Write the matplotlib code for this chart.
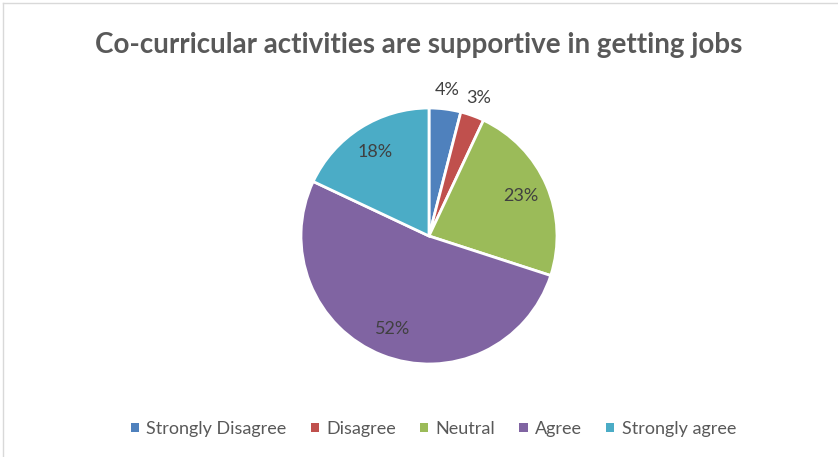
import numpy as np
import matplotlib.pyplot as plt
from matplotlib.patches import Patch
from matplotlib.lines import Line2D

# data
labels = ['Strongly Disagree', 'Disagree', 'Neutral', 'Agree', 'Strongly agree']
values = [4, 3, 23, 52, 18]
colors = ['#4f81bd', '#c0504d', '#9bbb59', '#8064a2', '#4bacc6']

plt.rcParams['font.family'] = ['Lato', 'DejaVu Sans']

W, H = 838, 457
fig = plt.figure(figsize=(W / 100, H / 100), dpi=100)

# light frame at top/left like the excel chart area
fig.add_artist(Line2D([3 / W, 3 / W], [0, 1 - 3 / H], color='#d9d9d9', lw=1))
fig.add_artist(Line2D([3 / W, 1], [1 - 3 / H, 1 - 3 / H], color='#d9d9d9', lw=1))

fig.text(0.5, 1 - 45 / H, 'Co-curricular activities are supportive in getting jobs',
         ha='center', va='center', fontsize=20, fontweight='bold', color='#595959')

cx, cy, r = 429, 236, 128
ax = fig.add_axes([(cx - r) / W, 1 - (cy + r) / H, 2 * r / W, 2 * r / H])
wedges, _ = ax.pie(values, colors=colors, startangle=90, counterclock=False, radius=1,
                   wedgeprops=dict(edgecolor='white', linewidth=2))
ax.set_xlim(-1, 1)
ax.set_ylim(-1, 1)
ax.set_aspect('equal')
ax.axis('off')

for w, v in zip(wedges, values):
    mid = np.deg2rad((w.theta1 + w.theta2) / 2)
    d = 1.15 if v < 5 else 0.78
    ax.text(d * np.cos(mid), d * np.sin(mid), f'{v}%', ha='center', va='center',
            fontsize=13, color='#404040', clip_on=False)

handles = [Patch(facecolor=c, edgecolor='none') for c in colors]
fig.legend(handles, labels, loc='center', bbox_to_anchor=(0.517, 1 - 429 / H), ncol=5,
           frameon=False, fontsize=13, handlelength=0.45, handleheight=0.45,
           handletextpad=0.4, columnspacing=1.35, labelcolor='#595959')

fig.savefig('out.png', dpi=100)
